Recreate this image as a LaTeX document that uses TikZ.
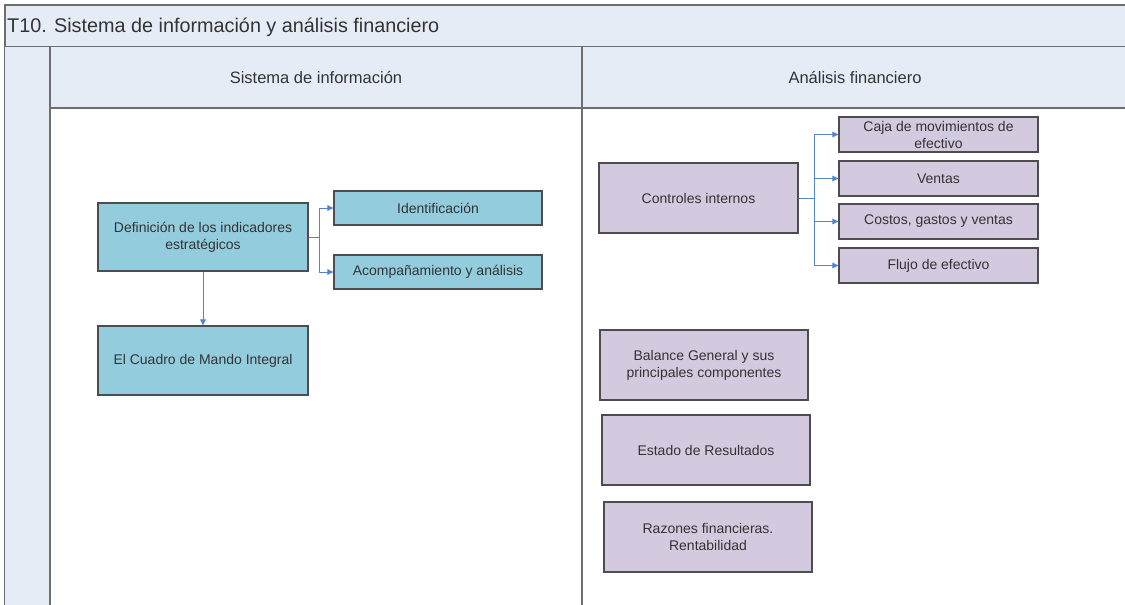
\documentclass[tikz,border=0pt]{standalone}
\usepackage{fontspec}
\setmainfont{Liberation Sans}
\usetikzlibrary{arrows.meta}
\definecolor{hdr}{HTML}{E6ECF6}
\definecolor{lane}{HTML}{6E6E6E}
\definecolor{teal}{HTML}{93CDDD}
\definecolor{lav}{HTML}{D4CADF}
\definecolor{bord}{HTML}{4D4D4D}
\definecolor{conn}{HTML}{5585CC}
\definecolor{txt}{HTML}{333333}
\tikzset{
  base/.style={draw=bord, line width=1.1pt, rectangle, align=center, text=txt,
    font=\fontsize{14}{17}\selectfont, inner sep=2pt},
  tealbox/.style={base, fill=teal},
  lavbox/.style={base, fill=lav},
  link/.style={draw=conn, line width=1pt, -{Triangle[length=6pt,width=5.5pt]}},
  frame/.style={draw=lane, line width=1.5pt}
}
\begin{document}
\begin{tikzpicture}[x=1pt,y=-1pt]
\useasboundingbox (0,0) rectangle (1125,605);
\fill[white] (0,0) rectangle (1125,605);
% title bar
\fill[hdr] (5,5) rectangle (1130,47);
\draw[frame] (1130,5) -- (5,5) -- (5,610);
\draw[frame] (5,47) -- (1130,47);
\node[anchor=west, text=txt, font=\fontsize{19.8}{22}\selectfont, inner sep=0pt] (title) at (7,27) {T10. Sistema de información y análisis financiero};
% left strip
\fill[hdr] (5,47) rectangle (50,610);
% lane headers
\fill[hdr] (50,47) rectangle (1130,108);
\draw[frame] (50,47) -- (50,610);
\draw[frame] (50,108) -- (1130,108);
\draw[frame] (582,47) -- (582,610);
\node[text=txt, font=\fontsize{16.5}{19}\selectfont] (h1) at (316,78) {Sistema de información};
\node[text=txt, font=\fontsize{16.5}{19}\selectfont] (h2) at (855,78) {Análisis financiero};
% left lane nodes
\node[tealbox, minimum width=210pt, minimum height=68pt] (def) at (203,237) {Definición de los indicadores\\estratégicos};
\node[tealbox, minimum width=208pt, minimum height=34pt] (ident) at (438,208) {Identificación};
\node[tealbox, minimum width=208pt, minimum height=34pt] (acomp) at (438,272) {Acompañamiento y análisis};
\node[tealbox, minimum width=210pt, minimum height=69pt] (cuadro) at (203,360.5) {El Cuadro de Mando Integral};
\draw[link] (def.east) -- ++(11,0) |- (ident.west);
\draw[link] (def.east) -- ++(11,0) |- (acomp.west);
\draw[link] (def.south) -- (cuadro.north);
% right lane nodes
\node[lavbox, minimum width=199pt, minimum height=70pt] (ctrl) at (698.5,198) {Controles internos};
\node[lavbox, minimum width=199pt, minimum height=35pt] (caja) at (938.5,134.5) {Caja de movimientos de\\efectivo};
\node[lavbox, minimum width=199pt, minimum height=35pt] (ventas) at (938.5,178.5) {Ventas};
\node[lavbox, minimum width=199pt, minimum height=35pt] (costos) at (938.5,221.5) {Costos, gastos y ventas};
\node[lavbox, minimum width=199pt, minimum height=35pt] (flujo) at (938.5,265.5) {Flujo de efectivo};
\draw[link] (ctrl.east) -- ++(16,0) |- (caja.west);
\draw[link] (ctrl.east) -- ++(16,0) |- (ventas.west);
\draw[link] (ctrl.east) -- ++(16,0) |- (costos.west);
\draw[link] (ctrl.east) -- ++(16,0) |- (flujo.west);
\node[lavbox, minimum width=208pt, minimum height=70pt] (bal) at (704,365) {Balance General y sus\\principales componentes};
\node[lavbox, minimum width=208pt, minimum height=70pt] (est) at (706,450) {Estado de Resultados};
\node[lavbox, minimum width=208pt, minimum height=70pt] (raz) at (708,537) {Razones financieras.\\Rentabilidad};
\end{tikzpicture}
\end{document}
